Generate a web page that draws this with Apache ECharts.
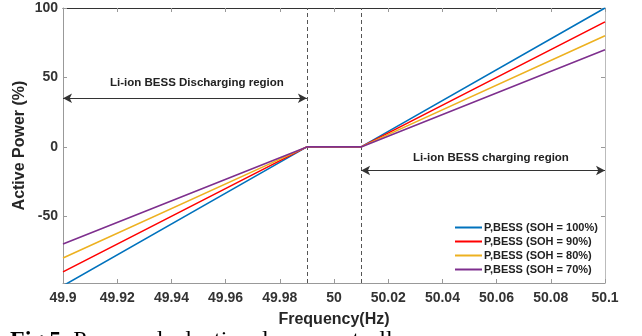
<!DOCTYPE html>
<html>
<head>
<meta charset="utf-8">
<script src="https://cdn.jsdelivr.net/npm/echarts@6/dist/echarts.min.js"></script>
<style>
  html, body { margin: 0; padding: 0; background: #fff; }
  #chart { width: 642px; height: 336px; }
</style>
</head>
<body>
<div id="chart"></div>
<script>
// frequency breakpoints (Hz) of the droop curves
const freq = [49.9, 49.99, 50.01, 50.1];
const soh100 = [-100, 0, 0, 100];
const soh90 = [-90, 0, 0, 90];
const soh80 = [-80, 0, 0, 80];
const soh70 = [-70, 0, 0, 70];
const seriesNames = [
    "P,BESS (SOH = 100%)",
    "P,BESS (SOH = 90%)",
    "P,BESS (SOH = 80%)",
    "P,BESS (SOH = 70%)",
];
const deadBand = [49.99, 50.01];
const yTicks = [-50, 0, 50, 100];

const chart = echarts.init(document.getElementById("chart"));
const font = "Arial, 'Liberation Sans', sans-serif";
const colors = ["#0072BD", "#FF0000", "#EDB120", "#7E2F8E"];

const pair = (vals) => freq.map((f, i) => [f, vals[i]]);

const series = [soh100, soh90, soh80, soh70].map((vals, i) => ({
    name: seriesNames[i],
    type: "line",
    data: pair(vals),
    symbol: "none",
    lineStyle: { width: 1.6, color: colors[i] },
    itemStyle: { color: colors[i] },
    z: 3 + i,
}));

// dashed dead-band limits and region arrows
series.push({
    type: "line",
    data: [],
    silent: true,
    markLine: {
        symbol: "none",
        silent: true,
        label: { show: false },
        lineStyle: { type: [4, 3], color: "#555", width: 1 },
        data: deadBand.map((x) => ({ xAxis: x })),
    },
});
series.push({
    type: "line",
    data: [],
    silent: true,
    markLine: {
        symbol: ["arrow", "arrow"],
        symbolSize: [7, 9],
        silent: true,
        label: { show: false },
        lineStyle: { type: "solid", color: "#333", width: 1 },
        data: [
            [{ coord: [49.9, 35] }, { coord: [49.99, 35] }],
            [{ coord: [50.01, -17] }, { coord: [50.1, -17] }],
        ],
    },
});

chart.setOption({
    animation: false,
    backgroundColor: "#fff",
    grid: { left: 63, right: 37, top: 8, bottom: 53, outerBoundsMode: "none" },
    legend: {
        data: seriesNames,
        orient: "vertical",
        left: 450,
        top: 217,
        itemWidth: 27,
        itemHeight: 2,
        itemGap: 3,
        icon: "rect",
        textStyle: { fontFamily: font, fontWeight: "bold", fontSize: 11, color: "#222", padding: [0, 0, 0, -3] },
    },
    xAxis: [
        {
            type: "value",
            min: 49.9,
            max: 50.1,
            interval: 0.02,
            name: "Frequency(Hz)",
            nameLocation: "middle",
            nameGap: 29,
            nameTextStyle: { fontFamily: font, fontWeight: "bold", fontSize: 16, color: "#262626" },
            axisLine: { onZero: false, lineStyle: { color: "#999" } },
            axisTick: { inside: true, length: 4, lineStyle: { color: "#999" } },
            axisLabel: {
                fontFamily: font, fontWeight: "bold", fontSize: 14, color: "#333", margin: 8,
                formatter: (v) => String(+v.toFixed(2)),
            },
            splitLine: { show: false },
        },
        {
            type: "value",
            min: 49.9,
            max: 50.1,
            interval: 0.02,
            position: "top",
            axisLine: { onZero: false, lineStyle: { color: "#333" } },
            axisTick: { inside: true, length: 4, lineStyle: { color: "#999" } },
            axisLabel: { show: false },
            splitLine: { show: false },
        },
    ],
    yAxis: [
        {
            type: "value",
            min: -98,
            max: 100,
            name: "Active Power (%)",
            nameLocation: "middle",
            nameGap: 35,
            nameMoveOverlap: false,
            nameTextStyle: { fontFamily: font, fontWeight: "bold", fontSize: 16, color: "#262626" },
            axisLine: { show: true, onZero: false, lineStyle: { color: "#999" } },
            axisTick: { show: true, inside: true, length: 4, customValues: yTicks, lineStyle: { color: "#999" } },
            axisLabel: { fontFamily: font, fontWeight: "bold", fontSize: 14, color: "#333", margin: 5, customValues: yTicks },
            splitLine: { show: false },
        },
        {
            type: "value",
            min: -98,
            max: 100,
            position: "right",
            axisLine: { show: true, onZero: false, lineStyle: { color: "#bbb" } },
            axisTick: { show: true, inside: true, length: 4, customValues: yTicks, lineStyle: { color: "#999" } },
            axisLabel: { show: false },
            splitLine: { show: false },
        },
    ],
    graphic: [
        {
            type: "text",
            left: 110,
            top: 77,
            style: { text: "Li-ion BESS Discharging region", font: "bold 11.5px " + font, fill: "#222" },
        },
        {
            type: "text",
            left: 413,
            top: 152,
            style: { text: "Li-ion BESS charging region", font: "bold 11.5px " + font, fill: "#222" },
        },
        {
            type: "text",
            left: 10,
            top: 329,
            style: {
                text: "{b|Fig.5.} Proposed adaptive droop controller",
                font: "24px 'Liberation Serif', 'Times New Roman', serif",
                fill: "#000",
                rich: { b: { fontWeight: "bold", fontSize: 24, fontFamily: "'Liberation Serif', serif" } },
            },
        },
    ],
    series: series,
});
</script>
</body>
</html>
